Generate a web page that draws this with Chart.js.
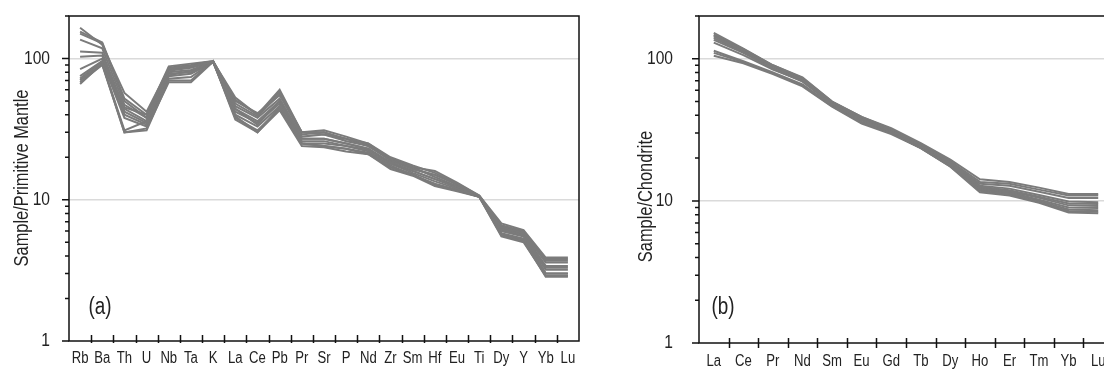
<!DOCTYPE html>
<html lang="en">
<head>
<meta charset="UTF-8">
<title>Primitive mantle and chondrite normalised patterns</title>
<script src="https://cdn.jsdelivr.net/npm/chart.js"></script>
<style>
  html, body { margin: 0; padding: 0; background: #fff; overflow: hidden; }
  #wrap { position: relative; width: 1104px; height: 369px; overflow: hidden; }
  #chartA { position: absolute; left: 0; top: 0; }
  #chartB { position: absolute; left: 620px; top: 0; }
</style>
</head>
<body>
<div id="wrap">
  <canvas id="chartA" width="600" height="369"></canvas>
  <canvas id="chartB" width="500" height="369"></canvas>
</div>
<script>
// (a) primitive mantle normalised trace elements
const pmElements = ['Rb','Ba','Th','U','Nb','Ta','K','La','Ce','Pb','Pr','Sr','P','Nd','Zr','Sm','Hf','Eu','Ti','Dy','Y','Yb','Lu'];
const pmSamples = [
  [165,125,57,42,85,88,95,53,40,58,30,30,27,25,20,17.5,15.5,13,10.7,6.8,6.1,3.9,3.9],
  [155,130,52,40,88,92,96,50,41,55,30,31,28,25,19.5,17,16,13.2,10.7,6.6,6.0,3.8,3.8],
  [136,118,47,38,82,86,95,46,38,52,28,29,26,24,19,16.5,15,12.8,10.6,6.4,5.8,3.6,3.6],
  [112,110,44,36,80,83,94,44,36,50,27,27,25,23,18.5,16,14,12.5,10.6,6.2,5.6,3.3,3.3],
  [103,105,42,35,78,80,95,42,35,48,26,26,24,22.5,18,15.5,13.5,12,10.5,6.0,5.5,3.2,3.2],
  [84,100,40,34,75,78,94,40,33,46,25,25,24,22,17.5,15,13,11.8,10.5,5.8,5.3,3.0,3.0],
  [72,95,38,33,72,74,95,38,31,44,25,24,23,21.5,17,15,12.8,11.6,10.5,5.7,5.2,2.9,2.9],
  [70,92,30,31,70,70,96,37,30,43,24,23.5,22,21,16.5,14.8,12.5,11.5,10.5,5.6,5.1,2.85,2.85],
  [68,90,30,32,68,68,95,39,30,45,25,24,23,21,17,15.2,12.6,11.7,10.5,5.5,5.0,2.9,2.9],
  [66,92,31,36,86,90,96,48,39,56,29,30,26,24.5,19,16.5,15,13,10.6,6.5,5.9,3.7,3.7],
  [75,96,45,40,84,87,95,51,40,60,30,29,27,24,19.5,17,14.5,12.5,10.6,6.3,5.7,3.4,3.4],
  [150,128,50,38,76,82,95,44,34,50,27,27,25,23,18,16,14,12.2,10.6,6.1,5.6,3.0,3.0]
];

// (b) chondrite normalised REE
const reeElements = ['La','Ce','Pr','Nd','Sm','Eu','Gd','Tb','Dy','Ho','Er','Tm','Yb','Lu'];
const reeSamples = [
  [152,118,90,74,50,39,32.5,25.5,19.5,14.2,13.6,12.4,11.2,11.2],
  [148,116,89,72,49.5,38.5,32,25,19,13.6,13.2,12,10.9,10.9],
  [144,114,88,71,49,38,31.5,24.5,18.5,13.2,12.8,11.6,10.5,10.5],
  [140,112,86,70,48,37,31,24.5,18.5,12.6,11.9,10.7,9.6,9.5],
  [136,110,85,69,48,37,31,24,18,12.4,11.7,10.5,9.3,9.2],
  [130,106,84,70,48,37,30.5,24,18,12.2,11.5,10.2,9.0,8.9],
  [114,96,80,66,47,36,30,23.5,17.5,12,11.3,10,8.7,8.6],
  [110,95,79,65,46.5,35.5,30,23.6,17.6,11.8,11.1,9.8,8.5,8.4],
  [105,93,78,64,46,35,29.5,23.5,17.4,11.5,10.9,9.7,8.3,8.2],
  [146,117,90,73,50,39,32,25,19,12.8,12.2,11,9.9,9.8]
];

const yTickValues = [1,2,3,4,5,6,7,8,9,10,20,30,40,50,60,70,80,90,100,200];
const yLabelValues = [1,10,100];
const yGridValues = [10,100];

const FONT = "'Liberation Sans', Arial, sans-serif";
const TEXT = '#222';
const LINE = '#7b7b7b';

// the original uses a condensed face; squeeze glyphs along the text direction
function narrowText(canvas, k) {
  const ctx = canvas.getContext('2d');
  const fill = ctx.fillText.bind(ctx);
  ctx.fillText = function (text, x, y) {
    this.save();
    this.translate(x, y);
    this.scale(k, 1);
    fill(text, 0, 0);
    this.restore();
  };
}

// box, tick marks, panel letter and y title
const frame = {
  id: 'frame',
  afterDraw(chart, args, opts) {
    const { ctx, chartArea: a, scales: { x, y } } = chart;
    ctx.save();
    ctx.strokeStyle = '#111';
    ctx.lineWidth = 1.5;
    ctx.strokeRect(a.left, a.top, a.right - a.left, a.bottom - a.top);
    ctx.beginPath();
    for (let i = 1; i < x.ticks.length; i++) {
      const px = Math.round(x.getPixelForValue(i - 0.5)) + 0.5;
      ctx.moveTo(px, a.bottom - opts.xIn);
      ctx.lineTo(px, a.bottom + opts.xOut);
    }
    y.ticks.forEach(t => {
      const py = y.getPixelForValue(t.value);
      const len = yLabelValues.includes(t.value) ? 7 : 4;
      ctx.moveTo(a.left - len, py);
      ctx.lineTo(a.left, py);
    });
    ctx.stroke();

    ctx.fillStyle = TEXT;
    ctx.textAlign = 'center';
    ctx.textBaseline = 'middle';
    ctx.font = '23px ' + FONT;
    ctx.fillText(opts.panel, a.left + opts.panelX, a.bottom - opts.panelY);

    ctx.translate(opts.titleX, opts.titleY);
    ctx.rotate(-Math.PI / 2);
    ctx.font = '20px ' + FONT;
    ctx.fillText(opts.title, 0, 0);
    ctx.restore();
  }
};

function makeChart(id, labels, samples, cfg) {
  const canvas = document.getElementById(id);
  narrowText(canvas, 0.82);
  const datasets = samples.map((vals, i) => ({
    label: 'Sample ' + (i + 1),
    data: vals,
    borderColor: LINE,
    borderWidth: 2,
    pointRadius: 0,
    tension: 0,
    fill: false
  }));
  return new Chart(canvas, {
    type: 'line',
    data: { labels: labels, datasets: datasets },
    options: {
      responsive: false,
      animation: false,
      layout: { padding: { left: 0, right: cfg.padRight, top: 16, bottom: 0 } },
      plugins: {
        legend: { display: false },
        tooltip: { enabled: false },
        frame: cfg.frame
      },
      scales: {
        x: {
          type: 'category',
          offset: true,
          grid: { display: false, drawTicks: false },
          border: { display: false },
          afterFit: s => { s.height = cfg.xHeight; s.paddingLeft = 0; s.paddingRight = 0; },
          ticks: {
            autoSkip: false,
            maxRotation: 0,
            padding: cfg.xPad,
            color: TEXT,
            font: { family: FONT, size: 16 }
          }
        },
        y: {
          type: 'logarithmic',
          min: 1,
          max: 200,
          afterFit: s => { s.width = cfg.yWidth; s.paddingTop = 0; s.paddingBottom = 0; },
          afterBuildTicks: s => { s.ticks = yTickValues.map(v => ({ value: v })); },
          border: { display: false },
          grid: {
            drawTicks: false,
            lineWidth: 1.5,
            color: c => (c.tick && yGridValues.includes(c.tick.value)) ? '#dadada' : 'rgba(0,0,0,0)'
          },
          ticks: {
            autoSkip: false,
            padding: cfg.yPad,
            color: TEXT,
            font: { family: FONT, size: 19 },
            callback: v => yLabelValues.includes(v) ? String(v) : ''
          }
        }
      }
    },
    plugins: [frame]
  });
}

makeChart('chartA', pmElements, pmSamples, {
  padRight: 21, xHeight: 28, yWidth: 69, xPad: 8, yPad: 19,
  frame: { xIn: 6, xOut: 2, panel: '(a)', panelX: 31, panelY: 33,
           title: 'Sample/Primitive Mantle', titleX: 22.5, titleY: 178 }
});

makeChart('chartB', reeElements, reeSamples, {
  padRight: 7, xHeight: 26, yWidth: 79, xPad: 9, yPad: 26,
  frame: { xIn: 5, xOut: 5, panel: '(b)', panelX: 24, panelY: 35,
           title: 'Sample/Chondrite', titleX: 26.5, titleY: 196.5 }
});
</script>
</body>
</html>
